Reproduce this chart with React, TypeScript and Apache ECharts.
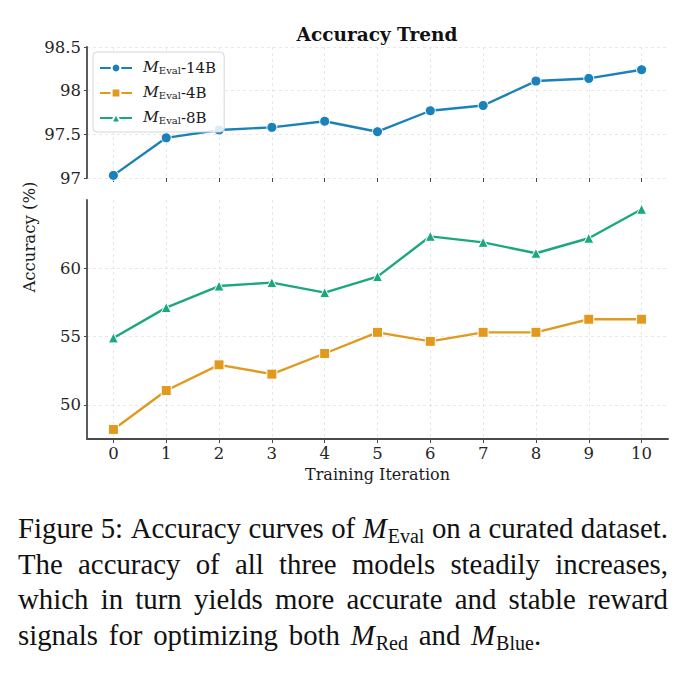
import React, { useEffect, useRef } from 'react';
import * as echarts from 'echarts';

// Training iterations on the x axis
const iterations = [0, 1, 2, 3, 4, 5, 6, 7, 8, 9, 10];

// Accuracy (%) per iteration for each evaluator size
const acc14B = [97.03, 97.46, 97.55, 97.58, 97.65, 97.53, 97.77, 97.83, 98.11, 98.14, 98.24];
const acc4B = [48.2, 51.05, 52.93, 52.25, 53.76, 55.31, 54.65, 55.31, 55.31, 56.27, 56.27];
const acc8B = [54.9, 57.12, 58.7, 58.95, 58.22, 59.39, 62.34, 61.9, 61.1, 62.2, 64.32];

const modelSizes = ['14B', '4B', '8B'];
const lowerTickValues = [50, 55, 60];

// Figure caption, word by word (math words carry an italic base and an upright subscript)
type Word = string | { base: string; sub: string; tail?: string };
const captionLine1: Word[] = ['Figure', '5:', 'Accuracy', 'curves', 'of', { base: 'M', sub: 'Eval' }, 'on', 'a', 'curated', 'dataset.'];
const captionLine2: Word[] = ['The', 'accuracy', 'of', 'all', 'three', 'models', 'steadily', 'increases,'];
const captionLine3: Word[] = ['which', 'in', 'turn', 'yields', 'more', 'accurate', 'and', 'stable', 'reward'];
const captionLine4: Word[] = ['signals', 'for', 'optimizing', 'both', { base: 'M', sub: 'Red' }, 'and', { base: 'M', sub: 'Blue', tail: '.' }];

const COLORS = ['#1a81b9', '#e19a1e', '#1ba881'];
const SERIF = 'DejaVu Serif';
const CAP_FONT = 'Liberation Serif';
const SPINE = '#4a4a4a';
const GRID_LINE = '#e2e2e2';

const measureCtx = document.createElement('canvas').getContext('2d') as CanvasRenderingContext2D;
function measure(text: string, font: string): number {
  measureCtx.font = font;
  return measureCtx.measureText(text).width;
}

function buildCaption(): any[] {
  const F = 28.8;
  const FS = 20;
  const left = 18;
  const right = 668;
  const normal = `${F}px "${CAP_FONT}"`;
  const italic = `italic ${F}px "${CAP_FONT}"`;
  const small = `${FS}px "${CAP_FONT}"`;
  const wordWidth = (w: Word) =>
    typeof w === 'string'
      ? measure(w, normal)
      : measure(w.base, italic) + 1 + measure(w.sub, small) + (w.tail ? measure(w.tail, normal) : 0);

  const lines: { words: Word[]; baseline: number; justify: boolean }[] = [
    { words: captionLine1, baseline: 538, justify: true },
    { words: captionLine2, baseline: 573.5, justify: true },
    { words: captionLine3, baseline: 609, justify: true },
    { words: captionLine4, baseline: 644.5, justify: false },
  ];
  const els: any[] = [];
  const mid = (baseline: number, size: number) => baseline - 0.3375 * size;
  const textEl = (x: number, y: number, text: string, size: number, style: string) => ({
    type: 'text',
    x,
    y,
    silent: true,
    style: {
      text,
      fill: '#111',
      fontFamily: CAP_FONT,
      fontSize: size,
      fontStyle: style,
      align: 'left',
      verticalAlign: 'middle',
    },
  });
  for (const line of lines) {
    const widths = line.words.map(wordWidth);
    const total = widths.reduce((a, b) => a + b, 0);
    const gap = line.justify
      ? (right - left - total) / (line.words.length - 1)
      : measure(' ', normal) * 1.5;
    let x = left;
    line.words.forEach((w, i) => {
      if (typeof w === 'string') {
        els.push(textEl(x, mid(line.baseline, F), w, F, 'normal'));
      } else {
        const wb = measure(w.base, italic) + 1;
        els.push(textEl(x, mid(line.baseline, F), w.base, F, 'italic'));
        els.push(textEl(x + wb, mid(line.baseline + 5, FS), w.sub, FS, 'normal'));
        if (w.tail) {
          const ws = measure(w.sub, small);
          els.push(textEl(x + wb + ws, mid(line.baseline, F), w.tail, F, 'normal'));
        }
      }
      x += widths[i] + gap;
    });
  }
  return els;
}

export default function App() {
  const ref = useRef<HTMLDivElement>(null);

  useEffect(() => {
    if (!ref.current) return;
    const chart = echarts.init(ref.current, null, { renderer: 'svg' });

    const splitLine = { show: true, lineStyle: { color: GRID_LINE, width: 0.8, type: [3, 3] as any } };
    const label = { fontFamily: SERIF, fontSize: 16.5, color: '#262626' };
    const seriesStyle = (i: number, symbol: string, size: number) => ({
      type: 'line' as const,
      symbol,
      symbolSize: size,
      lineStyle: { width: 2.4, color: COLORS[i] },
      itemStyle: { color: COLORS[i], borderColor: '#ffffff', borderWidth: 1 },
      emphasis: { disabled: true },
      z: 3,
    });

    const option: any = {
      animation: false,
      textStyle: { fontFamily: SERIF },
      grid: [
        { left: 87, top: 47, width: 581, height: 131 },
        { left: 87, top: 200, width: 581, height: 239 },
      ],
      xAxis: [
        {
          type: 'value',
          gridIndex: 0,
          min: -0.5,
          max: 10.5,
          axisLine: { show: false, onZero: false },
          axisTick: { show: true, length: 4, customValues: iterations, lineStyle: { color: SPINE, width: 1 } },
          axisLabel: { show: false, customValues: iterations },
          splitLine,
        },
        {
          type: 'value',
          gridIndex: 1,
          min: -0.5,
          max: 10.5,
          axisLine: { show: true, onZero: false, lineStyle: { color: SPINE, width: 1.8 } },
          axisTick: { show: true, length: 4, customValues: iterations, lineStyle: { color: SPINE, width: 1 } },
          axisLabel: { ...label, margin: 6, customValues: iterations },
          splitLine,
          name: 'Training Iteration',
          nameLocation: 'middle',
          nameGap: 27,
          nameTextStyle: { fontFamily: SERIF, fontSize: 16, color: '#1a1a1a' },
        },
      ],
      yAxis: [
        {
          type: 'value',
          gridIndex: 0,
          min: 97,
          max: 98.5,
          interval: 0.5,
          axisLine: { show: true, onZero: false, lineStyle: { color: SPINE, width: 1.8 } },
          axisTick: { show: true, length: 3, lineStyle: { color: SPINE, width: 1 } },
          axisLabel: { ...label, margin: 6 },
          splitLine,
        },
        {
          type: 'value',
          gridIndex: 1,
          min: 47.5,
          max: 65,
          axisLine: { show: true, onZero: false, lineStyle: { color: SPINE, width: 1.8 } },
          axisTick: { show: true, length: 3, customValues: lowerTickValues, lineStyle: { color: SPINE, width: 1 } },
          axisLabel: { ...label, margin: 6, customValues: lowerTickValues },
          splitLine,
        },
      ],
      legend: {
        data: modelSizes,
        orient: 'vertical',
        left: 93,
        top: 52,
        padding: [7, 8, 7, 6],
        itemWidth: 32,
        itemHeight: 11,
        itemGap: 9,
        backgroundColor: 'rgba(255,255,255,0.85)',
        borderColor: '#d6d6d6',
        borderWidth: 1,
        borderRadius: 4,
        formatter: (name: string) => `{m|M}{s|Eval}{t|-${name}}`,
        textStyle: {
          padding: [0, 0, 0, 6],
          rich: {
            m: { fontFamily: SERIF, fontStyle: 'italic', fontSize: 15.5, lineHeight: 14, verticalAlign: 'bottom', color: '#1a1a1a' },
            s: { fontFamily: SERIF, fontSize: 10, lineHeight: 5, verticalAlign: 'bottom', color: '#1a1a1a' },
            t: { fontFamily: SERIF, fontSize: 15, lineHeight: 14, verticalAlign: 'bottom', color: '#1a1a1a' },
          },
        },
      },
      series: [
        {
          ...seriesStyle(0, 'circle', 10),
          name: modelSizes[0],
          xAxisIndex: 0,
          yAxisIndex: 0,
          data: iterations.map((x, i) => [x, acc14B[i]]),
        },
        {
          ...seriesStyle(1, 'rect', 10),
          name: modelSizes[1],
          xAxisIndex: 1,
          yAxisIndex: 1,
          data: iterations.map((x, i) => [x, acc4B[i]]),
        },
        {
          ...seriesStyle(2, 'triangle', 10),
          name: modelSizes[2],
          xAxisIndex: 1,
          yAxisIndex: 1,
          data: iterations.map((x, i) => [x, acc8B[i]]),
        },
      ],
      graphic: [
        {
          type: 'text',
          x: 377,
          y: 34,
          silent: true,
          style: {
            text: 'Accuracy Trend',
            fontFamily: SERIF,
            fontWeight: 'bold',
            fontSize: 18.5,
            fill: '#111',
            align: 'center',
            verticalAlign: 'middle',
          },
        },
        {
          type: 'text',
          x: 29,
          y: 237,
          rotation: Math.PI / 2,
          silent: true,
          style: {
            text: 'Accuracy (%)',
            fontFamily: SERIF,
            fontSize: 16.5,
            fill: '#1a1a1a',
            align: 'center',
            verticalAlign: 'middle',
          },
        },
        ...buildCaption(),
      ],
    };

    chart.setOption(option);
    return () => chart.dispose();
  }, []);

  return (
    <div
      ref={ref}
      style={{ position: 'absolute', left: 0, top: 0, width: 692, height: 675, background: '#ffffff' }}
    />
  );
}
